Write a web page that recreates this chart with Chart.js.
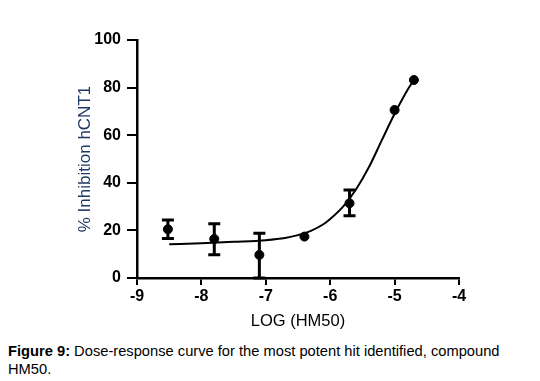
<!DOCTYPE html>
<html>
<head>
<meta charset="utf-8">
<script src="https://cdn.jsdelivr.net/npm/chart.js@4"></script>
<style>
  body { margin: 0; background: #fff; }
  #wrap { width: 540px; height: 381px; position: relative; }
  #chartBox { width: 540px; height: 340px; }
  .caption {
    position: absolute; left: 8px; top: 342px;
    font-family: "Liberation Sans", Arial, sans-serif;
    font-size: 14.7px; line-height: 18px; color: #000; white-space: nowrap;
  }
</style>
</head>
<body>
<div id="wrap">
  <div id="chartBox"><canvas id="myChart"></canvas></div>
  <div class="caption"><b>Figure 9:</b> Dose-response curve for the most potent hit identified, compound<br>HM50.</div>
</div>
<script>
// measured points: log dose, mean % inhibition, error bar low/high
const logDose = [-8.52, -7.8, -7.1, -6.4, -5.7, -5.0, -4.7];
const inhibition = [20.5, 16.4, 9.7, 17.4, 31.4, 70.6, 83.2];
const errLow = [16.6, 9.8, 0, 17.4, 26.2, 70.6, 83.2];
const errHigh = [24.4, 22.8, 18.8, 17.4, 37, 70.6, 83.2];

// fitted curve
const curveX = [-8.5, -8.0, -7.5, -7.0, -6.7, -6.5, -6.3, -6.1, -6.0, -5.8, -5.6, -5.4, -5.2, -5.0, -4.8, -4.7];
const curveY = [14.2, 14.6, 15.2, 15.9, 16.8, 18.0, 19.8, 22.7, 24.8, 30.0, 37.2, 46.5, 57.8, 69.0, 79.0, 83.2];

const xTicks = [-9, -8, -7, -6, -5, -4];
const yTicks = [0, 20, 40, 60, 80, 100];

const errorBars = {
  id: 'errorBars',
  afterDatasetsDraw(chart) {
    const ctx = chart.ctx;
    const xs = chart.scales.x, ys = chart.scales.y;
    ctx.save();
    ctx.strokeStyle = '#000';
    ctx.lineWidth = 3;
    logDose.forEach((d, i) => {
      if (errHigh[i] - errLow[i] < 0.5) return;
      const px = xs.getPixelForValue(d);
      const top = ys.getPixelForValue(errHigh[i]);
      const bot = ys.getPixelForValue(errLow[i]);
      ctx.beginPath();
      ctx.moveTo(px, top); ctx.lineTo(px, bot);
      ctx.moveTo(px - 6, top); ctx.lineTo(px + 6, top);
      ctx.moveTo(px - 6, bot); ctx.lineTo(px + 6, bot);
      ctx.stroke();
    });
    ctx.restore();
  }
};

const tickFont = { family: '"Liberation Sans", Arial, sans-serif', size: 16, weight: 'bold' };

new Chart(document.getElementById('myChart'), {
  type: 'scatter',
  data: {
    datasets: [
      {
        data: curveX.map((x, i) => ({ x: x, y: curveY[i] })),
        showLine: true,
        borderColor: '#000',
        borderWidth: 2,
        pointRadius: 0,
        cubicInterpolationMode: 'monotone'
      },
      {
        data: logDose.map((x, i) => ({ x: x, y: inhibition[i] })),
        backgroundColor: '#000',
        borderColor: '#000',
        pointRadius: 4.5
      }
    ]
  },
  options: {
    responsive: true,
    maintainAspectRatio: false,
    animation: false,
    layout: { padding: { left: 72, right: 81, top: 40, bottom: 0 } },
    plugins: { legend: { display: false }, tooltip: { enabled: false } },
    scales: {
      x: {
        type: 'linear',
        min: -9, max: -4,
        afterBuildTicks: (s) => { s.ticks = xTicks.map(v => ({ value: v })); },
        afterFit: (s) => { s.height = 62; },
        border: { color: '#000', width: 2.5 },
        grid: { drawOnChartArea: false, color: '#000', lineWidth: 2, tickLength: 7 },
        ticks: { color: '#000', font: tickFont, padding: 2 },
        title: {
          display: true, text: 'LOG (HM50)', color: '#000',
          font: { family: '"Liberation Sans", Arial, sans-serif', size: 16.5 },
          padding: { top: 0, bottom: 9 }
        }
      },
      y: {
        min: 0, max: 100,
        afterBuildTicks: (s) => { s.ticks = yTicks.map(v => ({ value: v })); },
        afterFit: (s) => { s.width = 65; },
        border: { color: '#000', width: 2.5 },
        grid: { drawOnChartArea: false, color: '#000', lineWidth: 2, tickLength: 10 },
        ticks: { color: '#000', font: tickFont, padding: 6 },
        title: {
          display: true, text: '% Inhibition hCNT1', color: '#1f3864',
          font: { family: '"Liberation Sans", Arial, sans-serif', size: 17 },
          padding: { top: 3, bottom: 0 }
        }
      }
    }
  },
  plugins: [errorBars]
});
</script>
</body>
</html>
